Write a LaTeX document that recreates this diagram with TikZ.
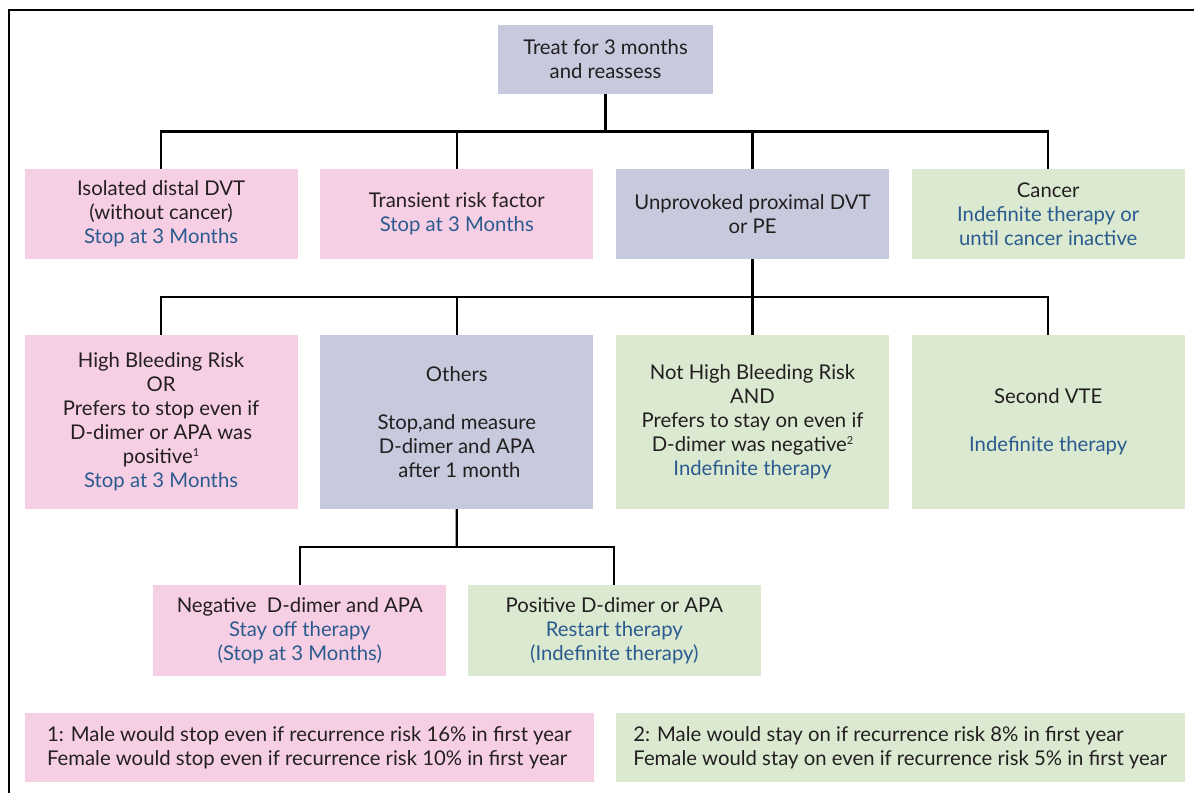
\documentclass[tikz,border=0pt]{standalone}
\usepackage{fontspec}
\setmainfont{Lato}
\usetikzlibrary{calc}
\definecolor{stopPink}{RGB}{246,207,228}
\definecolor{reassessGrey}{RGB}{199,201,221}
\definecolor{goGreen}{RGB}{218,233,208}
\definecolor{adviceBlue}{RGB}{43,91,142}
\definecolor{bodyText}{RGB}{35,31,32}
\newcommand{\noteMark}[1]{\raisebox{7pt}{\fontsize{11}{11}\selectfont #1}}
\tikzset{%
  % Specifications for style of nodes:
            base/.style = {rectangle, draw=none, minimum width=273pt,
                           minimum height=90pt, inner sep=2pt,
                           align=center, text=bodyText,
                           font=\fontsize{20.3}{24}\selectfont},
         stopBox/.style = {base, fill=stopPink},
     reassessBox/.style = {base, fill=reassessGrey},
     continueBox/.style = {base, fill=goGreen},
        tallBox/.style = {minimum height=174pt},
     outcomeBox/.style = {minimum width=293pt, minimum height=91pt},
        noteBox/.style = {minimum width=569pt, minimum height=69pt, align=left},
           link/.style = {draw=black, line width=2.2pt},
}
\begin{document}
\begin{tikzpicture}[x=1pt, y=1pt, node distance=295.7pt]
  \useasboundingbox (0,0) rectangle (1194,-793);
  \draw[link] (9,-793) -- (9,-10) -- (1194,-10);

  \node (treat)      [reassessBox, minimum width=215pt, minimum height=69pt] at (605.5,-59.5)
                     {Treat for 3 months \\ and reassess};
  \node (proximal)   [reassessBox, below of=treat, xshift=147pt, yshift=141.2pt]
                     {Unprovoked proximal DVT \\ or PE};
  \node (transient)  [stopBox, left of=proximal]
                     {Transient risk factor \\ {\color{adviceBlue}Stop at 3 Months}};
  \node (distal)     [stopBox, left of=transient]
                     {Isolated distal DVT \\ (without cancer) \\ {\color{adviceBlue}Stop at 3 Months}};
  \node (cancer)     [continueBox, right of=proximal]
                     {Cancer \\ {\color{adviceBlue}Indefinite therapy or} \\ {\color{adviceBlue}until cancer inactive}};

  \node (others)     [reassessBox, tallBox, below of=transient, yshift=87.7pt]
                     {Others \\[24pt] Stop,and measure \\ D-dimer and APA \\ \ after 1 month};
  \node (highBleed)  [stopBox, tallBox, left of=others]
                     {High Bleeding Risk \\ OR \\ Prefers to stop even if \\ D-dimer or APA was \\
                      positive\noteMark{1} \\ {\color{adviceBlue}Stop at 3 Months}};
  \node (lowBleed)   [continueBox, tallBox, right of=others]
                     {Not High Bleeding Risk \\ AND \\ Prefers to stay on even if \\
                      D-dimer was negative\noteMark{2} \\ {\color{adviceBlue}Indefinite therapy}};
  \node (secondVTE)  [continueBox, tallBox, right of=lowBleed]
                     {Second VTE \\[24pt] {\color{adviceBlue}Indefinite therapy}};

  \node (negative)   [stopBox, outcomeBox, below of=others, xshift=-157pt, yshift=87.2pt]
                     {Negative~ D-dimer and APA \\ {\color{adviceBlue}Stay off therapy} \\
                      {\color{adviceBlue}(Stop at 3 Months)}};
  \node (positive)   [continueBox, outcomeBox, below of=others, xshift=157.5pt, yshift=87.2pt]
                     {Positive D-dimer or APA \\ {\color{adviceBlue}Restart therapy} \\
                      {\color{adviceBlue}(Indefinite therapy)}};

  \node (noteStop)   [stopBox, noteBox, below of=negative, xshift=9.5pt, yshift=178.7pt]
                     {1: Male would stop even if recurrence risk 16\% in first year \\
                      Female would stop even if recurrence risk 10\% in first year};
  \node (noteStay)   [continueBox, noteBox, right of=noteStop, xshift=295.3pt]
                     {2: Male would stay on if recurrence risk 8\% in first year \\
                      Female would stay on even if recurrence risk 5\% in first year};

  % tree lines between the rows
  \coordinate (busTop) at ($(treat.south)!0.5!(treat.south |- proximal.north)$);
  \coordinate (busMid) at ($(proximal.south)!0.5!(proximal.south |- lowBleed.north)$);
  \coordinate (busLow) at ($(others.south)!0.5!(others.south |- negative.north)$);

  \draw[link] (treat.south) -- (busTop);
  \draw[link] (distal.north) |- (busTop) -| (cancer.north);
  \draw[link] (transient.north) -- (transient.north |- busTop);
  \draw[link] (proximal.north) -- (proximal.north |- busTop);

  \draw[link] (proximal.south) -- (busMid);
  \draw[link] (highBleed.north) |- (busMid) -| (secondVTE.north);
  \draw[link] (others.north) -- (others.north |- busMid);
  \draw[link] (lowBleed.north) -- (lowBleed.north |- busMid);

  \draw[link] (others.south) -- (busLow);
  \draw[link] (negative.north) |- (busLow) -| (positive.north);
\end{tikzpicture}
\end{document}
